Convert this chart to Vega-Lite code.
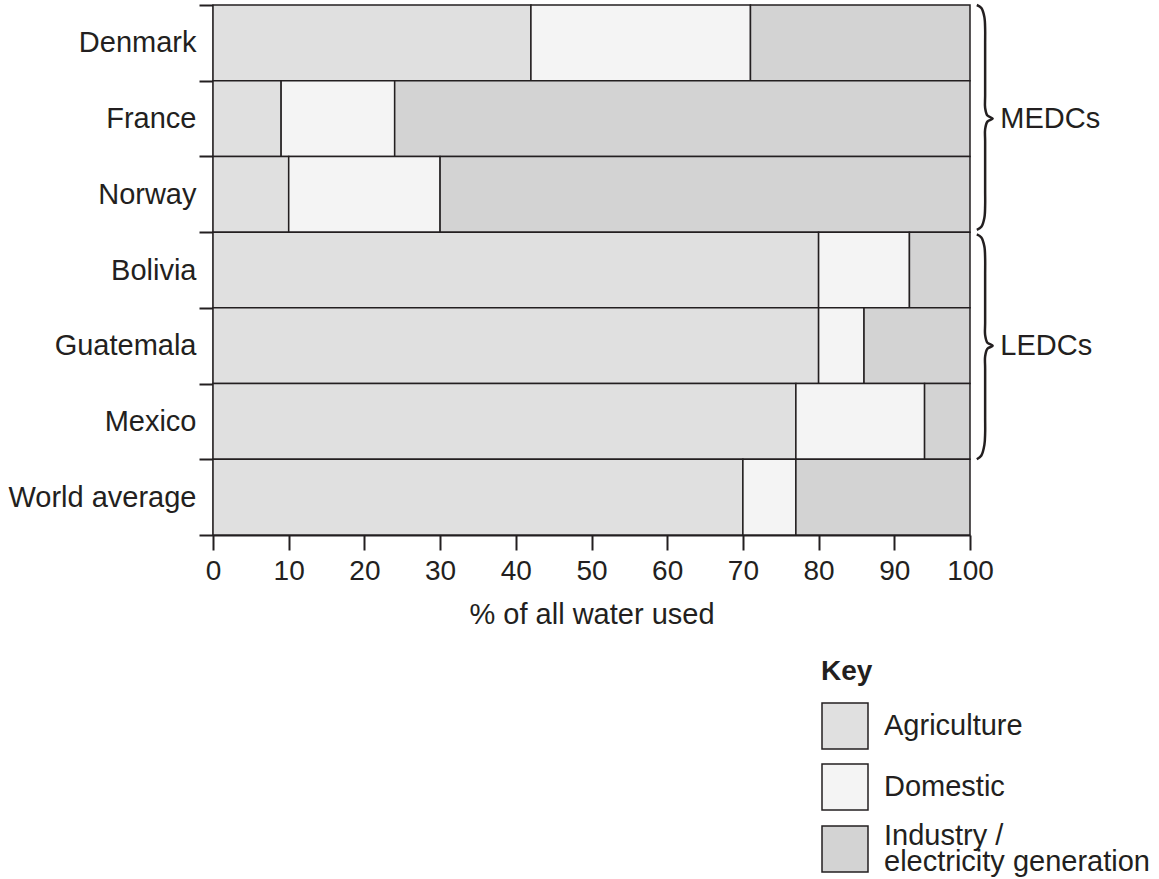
{
  "$schema": "https://vega.github.io/schema/vega-lite/v6.json",
  "width": 757,
  "height": 530,
  "autosize": "none",
  "padding": {"left": 213, "top": 5, "right": 189, "bottom": 344},
  "background": "white",
  "config": {
    "font": "Liberation Sans",
    "view": {"stroke": null},
    "axis": {
      "domainColor": "#231f20",
      "domainWidth": 2,
      "tickColor": "#231f20",
      "tickWidth": 2,
      "labelColor": "#231f20",
      "labelFont": "Liberation Sans",
      "titleFont": "Liberation Sans",
      "titleColor": "#231f20",
      "grid": false
    }
  },
  "datasets": {
    "water": [
      {"country": "Denmark", "use": "Agriculture", "percent": 42},
      {"country": "Denmark", "use": "Domestic", "percent": 29},
      {"country": "Denmark", "use": "Industry / electricity generation", "percent": 29},
      {"country": "France", "use": "Agriculture", "percent": 9},
      {"country": "France", "use": "Domestic", "percent": 15},
      {"country": "France", "use": "Industry / electricity generation", "percent": 76},
      {"country": "Norway", "use": "Agriculture", "percent": 10},
      {"country": "Norway", "use": "Domestic", "percent": 20},
      {"country": "Norway", "use": "Industry / electricity generation", "percent": 70},
      {"country": "Bolivia", "use": "Agriculture", "percent": 80},
      {"country": "Bolivia", "use": "Domestic", "percent": 12},
      {"country": "Bolivia", "use": "Industry / electricity generation", "percent": 8},
      {"country": "Guatemala", "use": "Agriculture", "percent": 80},
      {"country": "Guatemala", "use": "Domestic", "percent": 6},
      {"country": "Guatemala", "use": "Industry / electricity generation", "percent": 14},
      {"country": "Mexico", "use": "Agriculture", "percent": 77},
      {"country": "Mexico", "use": "Domestic", "percent": 17},
      {"country": "Mexico", "use": "Industry / electricity generation", "percent": 6},
      {"country": "World average", "use": "Agriculture", "percent": 70},
      {"country": "World average", "use": "Domestic", "percent": 7},
      {"country": "World average", "use": "Industry / electricity generation", "percent": 23}
    ],
    "brace": [
      {"group": "MEDCs", "bx": 100.9, "by": 0.0},
      {"group": "MEDCs", "bx": 101.5, "by": 0.04},
      {"group": "MEDCs", "bx": 101.9, "by": 0.16},
      {"group": "MEDCs", "bx": 102.0, "by": 0.32},
      {"group": "MEDCs", "bx": 102.0, "by": 0.5},
      {"group": "MEDCs", "bx": 102.0, "by": 1.2},
      {"group": "MEDCs", "bx": 102.0, "by": 1.36},
      {"group": "MEDCs", "bx": 102.3, "by": 1.46},
      {"group": "MEDCs", "bx": 103.0, "by": 1.5},
      {"group": "MEDCs", "bx": 102.3, "by": 1.54},
      {"group": "MEDCs", "bx": 102.0, "by": 1.64},
      {"group": "MEDCs", "bx": 102.0, "by": 1.8},
      {"group": "MEDCs", "bx": 102.0, "by": 2.45},
      {"group": "MEDCs", "bx": 102.0, "by": 2.65},
      {"group": "MEDCs", "bx": 101.9, "by": 2.81},
      {"group": "MEDCs", "bx": 101.5, "by": 2.93},
      {"group": "MEDCs", "bx": 100.9, "by": 2.97},
      {"group": "LEDCs", "bx": 100.9, "by": 3.03},
      {"group": "LEDCs", "bx": 101.5, "by": 3.07},
      {"group": "LEDCs", "bx": 101.9, "by": 3.19},
      {"group": "LEDCs", "bx": 102.0, "by": 3.35},
      {"group": "LEDCs", "bx": 102.0, "by": 3.55},
      {"group": "LEDCs", "bx": 102.0, "by": 4.2},
      {"group": "LEDCs", "bx": 102.0, "by": 4.36},
      {"group": "LEDCs", "bx": 102.3, "by": 4.46},
      {"group": "LEDCs", "bx": 103.0, "by": 4.5},
      {"group": "LEDCs", "bx": 102.3, "by": 4.54},
      {"group": "LEDCs", "bx": 102.0, "by": 4.64},
      {"group": "LEDCs", "bx": 102.0, "by": 4.8},
      {"group": "LEDCs", "bx": 102.0, "by": 5.45},
      {"group": "LEDCs", "bx": 102.0, "by": 5.65},
      {"group": "LEDCs", "bx": 101.9, "by": 5.81},
      {"group": "LEDCs", "bx": 101.5, "by": 5.95},
      {"group": "LEDCs", "bx": 100.9, "by": 6.0}
    ],
    "groups": [
      {"group": "MEDCs", "lx": 104, "ly": 1.5},
      {"group": "LEDCs", "lx": 104, "ly": 4.5}
    ]
  },
  "layer": [
    {
      "data": {"name": "water"},
      "mark": {"type": "bar", "stroke": "#231f20", "strokeWidth": 1.5},
      "encoding": {
        "y": {
          "field": "country",
          "type": "nominal",
          "sort": ["Denmark", "France", "Norway", "Bolivia", "Guatemala", "Mexico", "World average"],
          "scale": {"paddingInner": 0, "paddingOuter": 0},
          "axis": {
            "title": null,
            "tickBand": "extent",
            "tickSize": 14,
            "labelFontSize": 29,
            "labelPadding": 3,
            "labelLimit": 300
          }
        },
        "x": {
          "field": "percent",
          "type": "quantitative",
          "stack": "zero",
          "scale": {"domain": [0, 100], "nice": false},
          "axis": {
            "values": [0, 10, 20, 30, 40, 50, 60, 70, 80, 90, 100],
            "title": "% of all water used",
            "tickSize": 15,
            "labelPadding": 7,
            "labelFontSize": 28,
            "labelFlush": false,
            "titleFontSize": 29,
            "titleFontWeight": "normal",
            "titlePadding": 15
          }
        },
        "fill": {
          "field": "use",
          "type": "nominal",
          "scale": {
            "domain": ["Agriculture", "Domestic", "Industry / electricity generation"],
            "range": ["#e0e0e0", "#f4f4f4", "#d3d3d3"]
          },
          "legend": {
            "orient": "none",
            "legendX": 608,
            "legendY": 653,
            "title": "Key",
            "titleFontSize": 28,
            "titleFontWeight": "bold",
            "titleColor": "#231f20",
            "titlePadding": 16,
            "padding": 0,
            "symbolType": "square",
            "symbolSize": 2116,
            "symbolStrokeColor": "#231f20",
            "symbolStrokeWidth": 1.5,
            "symbolOpacity": 1,
            "labelFontSize": 29,
            "labelColor": "#231f20",
            "labelOffset": 15,
            "labelLimit": 400,
            "rowPadding": 9,
            "labelExpr": "datum.label == 'Industry / electricity generation' ? ['Industry /', 'electricity generation'] : datum.label",
            "encode": {
              "labels": {
                "update": {
                  "lineHeight": {"value": 26},
                  "dy": {"signal": "datum.value == 'Industry / electricity generation' ? -13 : 0"}
                }
              }
            }
          }
        }
      }
    },
    {
      "data": {"name": "brace"},
      "mark": {"type": "line", "interpolate": "catmull-rom", "stroke": "#231f20", "strokeWidth": 2.5, "clip": false},
      "encoding": {
        "x": {"field": "bx", "type": "quantitative"},
        "y": {"field": "by", "type": "quantitative", "scale": {"domain": [0, 7], "reverse": true, "nice": false, "zero": false}, "axis": null},
        "detail": {"field": "group"},
        "order": {"field": "by", "type": "quantitative"}
      }
    },
    {
      "data": {"name": "groups"},
      "mark": {"type": "text", "align": "left", "baseline": "middle", "fontSize": 29, "color": "#231f20", "clip": false},
      "encoding": {
        "x": {"field": "lx", "type": "quantitative"},
        "y": {"field": "ly", "type": "quantitative", "scale": {"domain": [0, 7], "reverse": true, "nice": false, "zero": false}, "axis": null},
        "text": {"field": "group"}
      }
    }
  ],
  "resolve": {"scale": {"y": "independent"}}
}
